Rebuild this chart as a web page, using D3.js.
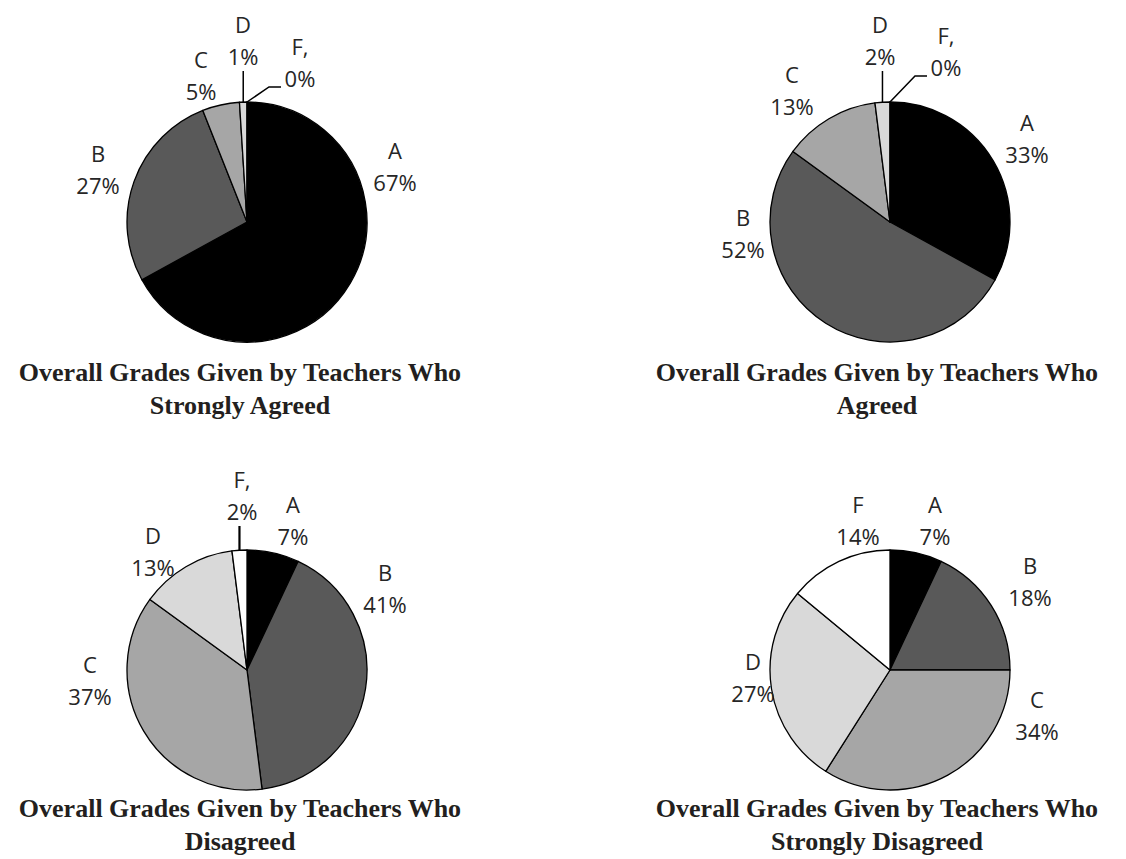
<!DOCTYPE html>
<html>
<head>
<meta charset="utf-8">
<script src="https://cdn.jsdelivr.net/npm/d3@7"></script>
<style>
  body { margin: 0; background: #fff; }
  svg { display: block; }
</style>
</head>
<body>
<svg id="chart" width="1126" height="859"></svg>
<script>
// Overall grades by teacher agreement, four pies

var grades = ["A", "B", "C", "D", "F"];
var strongAgree = [67, 27, 5, 1, 0];
var agree = [33, 52, 13, 2, 0];
var disagree = [7, 41, 37, 13, 2];
var strongDisagree = [7, 18, 34, 27, 14];

var titles = [
  ["Overall Grades Given by Teachers Who", "Strongly Agreed"],
  ["Overall Grades Given by Teachers Who", "Agreed"],
  ["Overall Grades Given by Teachers Who", "Disagreed"],
  ["Overall Grades Given by Teachers Who", "Strongly Disagreed"]
];
// category text on the first label line (Excel kept the comma on some)
var labelNames = [
  ["A", "B", "C", "D", "F,"],
  ["A", "B", "C", "D", "F,"],
  ["A", "B", "C", "D", "F,"],
  ["A", "B", "C", "D", "F"]
];

var colors = d3.scaleOrdinal()
  .domain(grades)
  .range(["#000000", "#595959", "#a6a6a6", "#d9d9d9", "#ffffff"]);

// layout of each pie
var panels = [
  { values: strongAgree, cx: 247, cy: 222, tx: 240, ty: 381 },
  { values: agree, cx: 890, cy: 222, tx: 877, ty: 381 },
  { values: disagree, cx: 247, cy: 670, tx: 240, ty: 817 },
  { values: strongDisagree, cx: 890, cy: 670, tx: 877, ty: 817 }
];
// label block centre, relative to pie centre
var labelPos = [
  [[148, -55], [-149, -52], [-46, -146], [-4, -181], [53, -159]],
  [[137, -83], [-147, 12], [-98, -131], [-10, -181], [56, -170]],
  [[46, -149], [138, -81], [-157, 11], [-94, -118], [-5, -174]],
  [[45, -149], [140, -88], [147, 46], [-137, 8], [-32, -149]]
];
var leaders = [
  ["", "", "", "v", "e"],
  ["", "", "", "v", "e"],
  ["", "", "", "", "v"],
  ["", "", "", "", ""]
];

var radius = 120;
var svg = d3.select("#chart");

var pie = d3.pie().sort(null).value(function (d) { return d; });
var arc = d3.arc().innerRadius(0).outerRadius(radius);

panels.forEach(function (p, i) {
  var g = svg.append("g")
    .attr("transform", "translate(" + p.cx + "," + p.cy + ")");

  var slices = pie(p.values);

  g.selectAll("path")
    .data(slices)
    .enter()
    .append("path")
    .attr("d", arc)
    .attr("fill", function (d, j) { return colors(grades[j]); })
    .attr("stroke", "#000")
    .attr("stroke-width", 1.3)
    .attr("stroke-linejoin", "round");

  // leader lines
  slices.forEach(function (d, j) {
    var type = leaders[i][j];
    if (!type) return;
    var mid = (d.startAngle + d.endAngle) / 2;
    var px = radius * Math.sin(mid);
    var py = -radius * Math.cos(mid);
    var lx = labelPos[i][j][0];
    var ly = labelPos[i][j][1];
    var pts;
    if (type == "v") {
      pts = [[px, py], [px, ly + 30]];
    } else {
      var ex = lx - 19;
      var ey = ly + 24;
      pts = [[px, py], [ex - 12, ey], [ex, ey]];
    }
    g.append("path")
      .attr("d", d3.line()(pts))
      .attr("fill", "none")
      .attr("stroke", "#000")
      .attr("stroke-width", type == "v" && i == 2 ? 2.2 : 1.5);
  });

  // data labels
  var labels = g.selectAll("text.label")
    .data(slices)
    .enter()
    .append("text")
    .attr("class", "label")
    .attr("text-anchor", "middle")
    .style("font-family", "'Open Sans', sans-serif")
    .style("font-size", "22px")
    .attr("fill", "#262626");

  labels.append("tspan")
    .attr("x", function (d, j) { return labelPos[i][j][0]; })
    .attr("y", function (d, j) { return labelPos[i][j][1] - 8; })
    .text(function (d, j) { return labelNames[i][j]; });

  labels.append("tspan")
    .attr("x", function (d, j) { return labelPos[i][j][0]; })
    .attr("y", function (d, j) { return labelPos[i][j][1] + 24; })
    .text(function (d) { return d.data + "%"; });

  // title
  var t = svg.append("text")
    .attr("text-anchor", "middle")
    .style("font-family", "'Liberation Serif', 'Times New Roman', serif")
    .style("font-weight", "bold")
    .style("font-size", "26px")
    .attr("fill", "#231f20");
  titles[i].forEach(function (line, k) {
    t.append("tspan")
      .attr("x", p.tx)
      .attr("y", p.ty + k * 33)
      .text(line);
  });
});
</script>
</body>
</html>
